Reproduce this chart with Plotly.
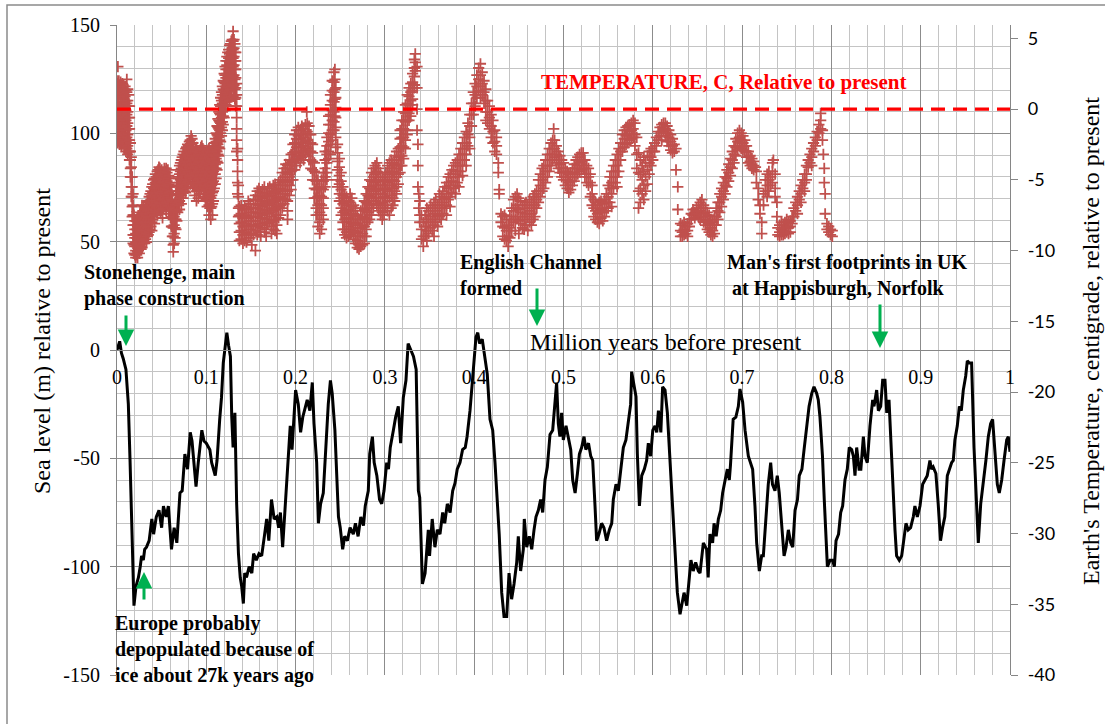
import plotly.graph_objects as go

# ---------------- data ----------------
# Sea level (m) relative to present, vs million years before present
sea_0_to_03 = [
    (0.000, 0), (0.003, 4), (0.005, -1.5), (0.007, -4), (0.010, -9), (0.0127, -25), (0.0146, -51),
    (0.0164, -82), (0.019, -118), (0.0213, -109), (0.024, -105), (0.026, -100), (0.0275, -95),
    (0.0295, -97), (0.031, -92), (0.033, -91), (0.036, -88), (0.039, -78), (0.041, -85), (0.044, -77),
    (0.047, -74), (0.050, -82), (0.052, -72), (0.055, -77), (0.0575, -72), (0.061, -92), (0.064, -82),
    (0.067, -89), (0.069, -75), (0.0705, -66), (0.073, -65), (0.076, -48), (0.079, -55), (0.082, -38),
    (0.084, -42), (0.086, -52), (0.0885, -63), (0.091, -52), (0.095, -37), (0.0974, -42), (0.100, -43),
    (0.104, -46), (0.106, -52), (0.110, -58), (0.112, -51), (0.115, -32), (0.117, -22), (0.119, -6),
    (0.121, 0), (0.123, 8), (0.125, 2), (0.127, -3), (0.1285, -31), (0.130, -45), (0.132, -29),
    (0.134, -71), (0.136, -94), (0.138, -105), (0.1396, -109), (0.1415, -117), (0.143, -103),
    (0.145, -105), (0.148, -100), (0.151, -103), (0.153, -94), (0.156, -97), (0.159, -94), (0.162, -95),
    (0.165, -86), (0.1676, -78), (0.170, -88), (0.173, -69), (0.176, -78), (0.179, -77), (0.181, -82),
    (0.183, -75), (0.1855, -91), (0.188, -75), (0.190, -66), (0.192, -49), (0.194, -35), (0.196, -46),
    (0.198, -31), (0.200, -18.5), (0.203, -25), (0.2056, -38), (0.208, -31), (0.211, -26), (0.213, -23),
    (0.216, -28), (0.2187, -15), (0.2206, -34), (0.2236, -52), (0.2255, -80), (0.228, -71), (0.231, -66),
    (0.234, -41.5), (0.2366, -25), (0.239, -14), (0.241, -20), (0.244, -37), (0.246, -57), (0.248, -77),
    (0.250, -82), (0.2527, -92), (0.255, -86), (0.258, -88), (0.261, -82), (0.2646, -85), (0.267, -80),
    (0.270, -86), (0.273, -77), (0.276, -81), (0.278, -72), (0.2814, -65), (0.283, -48), (0.286, -40),
    (0.288, -52), (0.291, -58), (0.294, -69), (0.2964, -71), (0.299, -65),
]
sea_03_to_065 = [
    (0.302, -52), (0.304, -55), (0.306, -45), (0.3095, -37), (0.312, -31), (0.315, -26), (0.3176, -43),
    (0.3206, -22), (0.3236, -14), (0.326, 3), (0.329, 0), (0.332, -3), (0.335, -9), (0.3375, -65),
    (0.339, -68), (0.342, -108), (0.345, -103), (0.3486, -83), (0.350, -95), (0.353, -78), (0.356, -91),
    (0.3587, -83), (0.3617, -85), (0.3647, -75), (0.367, -80), (0.3699, -71), (0.373, -75), (0.3759, -65),
    (0.3785, -61.5), (0.381, -55), (0.3841, -52), (0.387, -46), (0.390, -45), (0.392, -40), (0.3953, -28),
    (0.398, -14), (0.400, -3), (0.402, 6), (0.404, 8), (0.406, 3), (0.409, 5), (0.4121, -3), (0.4146, -11),
    (0.4177, -32), (0.4207, -37), (0.4233, -52), (0.426, -71), (0.428, -85), (0.4308, -112), (0.4334, -123),
    (0.4364, -123), (0.439, -103), (0.4419, -115), (0.4446, -108), (0.4476, -98), (0.4494, -86),
    (0.452, -102), (0.455, -92), (0.4561, -78), (0.4588, -91), (0.4617, -86), (0.4644, -92), (0.467, -83),
    (0.4692, -77), (0.4718, -74), (0.4744, -69), (0.4767, -75), (0.4793, -60), (0.4819, -54), (0.4849, -39),
    (0.4879, -37), (0.4905, -22), (0.4923, -15), (0.4942, -34), (0.496, -40), (0.4979, -29), (0.4998, -41.5),
    (0.5028, -35), (0.5054, -40), (0.5081, -46), (0.5103, -60), (0.513, -66), (0.5156, -57), (0.5178, -48),
    (0.5203, -45), (0.523, -40), (0.525, -46), (0.528, -43), (0.5305, -49), (0.5327, -51), (0.5353, -72),
    (0.5371, -88), (0.5397, -85), (0.5427, -80), (0.5453, -82), (0.5483, -88), (0.5513, -83), (0.554, -80),
    (0.5558, -69), (0.5588, -62), (0.5614, -65), (0.564, -55), (0.567, -45), (0.5699, -41.5), (0.5726, -32),
    (0.5752, -25), (0.5763, -10), (0.5782, -15), (0.5812, -21.5), (0.5827, -48), (0.585, -72), (0.5876, -58),
    (0.5905, -55), (0.5931, -51), (0.595, -43), (0.5976, -49), (0.600, -37), (0.6025, -35), (0.6044, -38),
    (0.6063, -28), (0.609, -38), (0.611, -17), (0.6137, -18.5), (0.6163, -29), (0.6193, -52), (0.6223, -72),
    (0.6248, -95), (0.6275, -112), (0.6305, -122), (0.633, -117), (0.635, -112), (0.638, -118),
    (0.6405, -105), (0.6427, -97), (0.6453, -102), (0.648, -98), (0.651, -102),
]
sea_065_to_1 = [
    (0.6529, -103), (0.6566, -89), (0.6603, -92), (0.662, -105), (0.664, -85), (0.667, -89), (0.6686, -80),
    (0.671, -86), (0.6734, -78), (0.676, -74), (0.6782, -66), (0.681, -60), (0.6835, -55), (0.6857, -60),
    (0.687, -53), (0.690, -32), (0.693, -31), (0.6958, -26), (0.6976, -18), (0.7006, -24), (0.7033, -37),
    (0.707, -49), (0.7096, -52), (0.7118, -55), (0.7144, -72), (0.7163, -89), (0.7193, -102), (0.7219, -95),
    (0.7238, -95), (0.7267, -77), (0.7293, -62), (0.732, -52), (0.734, -62), (0.7368, -65), (0.7394, -58),
    (0.7416, -66), (0.7443, -83), (0.747, -95), (0.7492, -91), (0.7518, -83), (0.7544, -89), (0.7567, -91),
    (0.7593, -74), (0.762, -69), (0.764, -58), (0.767, -55), (0.7694, -46), (0.7723, -37), (0.775, -26),
    (0.778, -20), (0.7805, -17), (0.7835, -20), (0.7853, -23), (0.7872, -31), (0.790, -49), (0.792, -69),
    (0.794, -86), (0.7955, -100), (0.7985, -97), (0.8014, -97), (0.8033, -100), (0.8052, -88), (0.808, -85),
    (0.8104, -75), (0.8126, -72), (0.8152, -60), (0.8178, -55), (0.820, -45), (0.8227, -46), (0.8246, -49),
    (0.8264, -58), (0.8283, -45), (0.831, -55), (0.833, -55), (0.8358, -40), (0.8376, -49), (0.8402, -52),
    (0.8432, -35), (0.8462, -23), (0.8477, -26), (0.8507, -18.5), (0.8526, -28), (0.8552, -26), (0.8574, -14),
    (0.860, -14), (0.862, -29), (0.8645, -23), (0.8664, -41.5), (0.8686, -63), (0.8712, -83), (0.873, -95),
    (0.876, -97), (0.8787, -95), (0.8813, -86), (0.8835, -80), (0.886, -83), (0.8887, -82), (0.8917, -77),
    (0.8935, -72), (0.8962, -77), (0.8992, -72), (0.9022, -62), (0.9047, -60), (0.9073, -58), (0.9103, -51),
    (0.9121, -55), (0.914, -54), (0.917, -57), (0.9196, -71), (0.9222, -88), (0.9245, -82), (0.927, -77),
    (0.9298, -58), (0.932, -55), (0.9346, -52), (0.9365, -51), (0.9383, -41.5), (0.941, -35), (0.9433, -26),
    (0.9455, -28), (0.9477, -18.5), (0.9504, -12), (0.9522, -5), (0.9545, -6), (0.957, -6), (0.9597, -45),
    (0.9626, -71), (0.9645, -89), (0.9672, -71), (0.970, -62), (0.973, -51), (0.9757, -40), (0.9783, -34),
    (0.9805, -32), (0.983, -46), (0.9858, -62), (0.988, -66), (0.9907, -60), (0.9933, -51), (0.9963, -41.5),
    (0.9981, -40), (1.000, -47),
]

# Temperature (C) relative to present: age -> the readings seen at that age
temp_0_to_0136 = [
    (0.000, [2.0, 1.2, 0.5, -0.2, -0.9, -1.6, -2.2]), (0.001, [3.0, 1.8, 1.0, 0.3, -0.4, -1.1, -1.9, -2.4]),
    (0.002, [2.0, 1.4, 0.7, 0.0, -0.7, -1.4, -2.0]), (0.003, [1.7, 1.0, 0.2, -0.5, -1.2, -1.9, -2.5]),
    (0.004, [1.9, 1.2, 0.5, -0.3, -1.0, -1.7, -2.3]), (0.005, [1.5, 0.8, 0.1, -0.6, -1.3, -2.0, -2.6]),
    (0.006, [1.8, 1.1, 0.4, -0.3, -1.0, -1.8, -2.4]), (0.007, [1.6, 0.9, 0.2, -0.5, -1.2, -1.9]),
    (0.008, [1.4, 0.7, 0.0, -0.8, -1.5, -2.2, -2.8]), (0.009, [1.6, 0.9, 0.2, -0.6, -1.3, -2.0, -2.7]),
    (0.010, [1.3, 0.6, -0.1, -0.8, -1.5, -2.3, -3.0]), (0.011, [2.1, 1.2, 0.4, -0.4, -1.2, -2.0, -2.8]),
    (0.012, [1.4, 0.6, -0.2, -1.0, -1.8, -2.6, -3.2]), (0.013, [1.0, 0.2, -0.6, -1.4, -2.2, -3.0]),
    (0.014, [0.2, -0.6, -1.4, -2.2, -3.0, -3.6]), (0.015, [-2.4, -3.0, -3.6, -4.2, -4.8]),
    (0.016, [-3.4, -4.1, -4.8, -5.5, -6.2]), (0.017, [-4.8, -5.5, -6.2, -6.9, -7.6]),
    (0.018, [-6.0, -6.8, -7.5, -8.2, -8.9, -9.5]), (0.019, [-7.5, -8.2, -8.9, -9.6, -10.2]),
    (0.020, [-7.9, -8.5, -9.1, -9.7, -10.3]), (0.021, [-8.2, -8.8, -9.4, -10.0, -10.5]),
    (0.022, [-7.9, -8.5, -9.1, -9.7, -10.3]), (0.023, [-7.7, -8.3, -8.9, -9.5, -10.1, -10.5]),
    (0.024, [-7.6, -8.2, -8.8, -9.4, -10.0]), (0.025, [-7.8, -8.4, -9.0, -9.6, -10.2]),
    (0.026, [-7.3, -7.9, -8.5, -9.1, -9.7]), (0.027, [-7.5, -8.1, -8.7, -9.3, -9.9]),
    (0.028, [-6.8, -7.4, -8.0, -8.6, -9.2, -9.8]), (0.029, [-7.2, -7.8, -8.4, -9.0, -9.5]),
    (0.030, [-6.9, -7.5, -8.1, -8.7, -9.3]), (0.031, [-7.1, -7.7, -8.3, -8.9, -9.5]),
    (0.032, [-6.8, -7.4, -8.0, -8.6, -9.2]), (0.033, [-7.0, -7.6, -8.2, -8.8, -9.4]),
    (0.034, [-6.6, -7.2, -7.8, -8.4, -9.0]), (0.035, [-6.5, -7.1, -7.7, -8.3, -8.9]),
    (0.036, [-6.2, -6.8, -7.4, -8.0, -8.7]), (0.037, [-6.0, -6.6, -7.2, -7.8, -8.5]),
    (0.038, [-5.8, -6.4, -7.0, -7.6, -8.3]), (0.039, [-5.5, -6.1, -6.7, -7.3, -8.0, -8.6]),
    (0.040, [-5.3, -5.9, -6.5, -7.1, -7.8]), (0.041, [-5.0, -5.6, -6.2, -6.8, -7.5]),
    (0.042, [-4.9, -5.5, -6.1, -6.8, -7.5, -8.1]), (0.043, [-4.6, -5.2, -5.9, -6.5, -7.2]),
    (0.044, [-4.8, -5.4, -6.0, -6.6, -7.3]), (0.045, [-4.4, -5.0, -5.6, -6.2, -6.9, -7.5]),
    (0.046, [-4.3, -4.9, -5.5, -6.1, -6.8]), (0.047, [-4.1, -4.7, -5.3, -5.9, -6.6, -7.2]),
    (0.048, [-4.2, -4.8, -5.4, -6.0, -6.7]), (0.049, [-4.4, -5.0, -5.6, -6.2, -6.9, -7.4]),
    (0.050, [-4.3, -4.9, -5.5, -6.1, -6.8]), (0.051, [-4.6, -5.2, -5.8, -6.4, -7.1, -7.7]),
    (0.052, [-4.5, -5.1, -5.7, -6.3, -7.0]), (0.053, [-4.2, -4.8, -5.4, -6.0, -6.7]),
    (0.054, [-4.4, -5.0, -5.6, -6.2, -6.9]), (0.055, [-4.2, -4.8, -5.4, -6.0, -6.6, -7.2]),
    (0.056, [-4.5, -5.1, -5.7, -6.3, -6.9]), (0.057, [-4.3, -4.9, -5.5, -6.1, -6.8]),
    (0.058, [-4.7, -5.3, -5.9, -6.5, -7.2]), (0.059, [-4.9, -5.5, -6.1, -6.7, -7.4]),
    (0.060, [-5.2, -5.8, -6.4, -7.0, -7.7]), (0.061, [-5.8, -6.4, -7.0, -7.6, -8.3]),
    (0.062, [-6.5, -7.1, -7.7, -8.3, -9.0]), (0.063, [-7.2, -7.8, -8.4, -9.0, -9.6, -10.1]),
    (0.064, [-7.0, -7.6, -8.2, -8.8, -9.5]), (0.065, [-6.6, -7.2, -7.8, -8.4, -9.1]),
    (0.066, [-6.0, -6.6, -7.2, -7.8, -8.5]), (0.067, [-5.4, -6.0, -6.6, -7.2, -7.9]),
    (0.068, [-4.8, -5.4, -6.0, -6.6, -7.3]), (0.069, [-4.3, -4.9, -5.5, -6.1, -6.8]),
    (0.070, [-4.0, -4.6, -5.2, -5.8, -6.5, -7.1]), (0.071, [-3.8, -4.4, -5.0, -5.6, -6.3]),
    (0.072, [-3.6, -4.2, -4.8, -5.4, -6.1, -6.7]), (0.073, [-3.4, -4.0, -4.6, -5.2, -5.9]),
    (0.074, [-3.2, -3.8, -4.4, -5.0, -5.7, -6.3]), (0.075, [-3.0, -3.6, -4.2, -4.8, -5.5]),
    (0.076, [-3.3, -3.9, -4.5, -5.1, -5.8]), (0.077, [-2.8, -3.4, -4.0, -4.6, -5.3, -5.9]),
    (0.078, [-2.7, -3.3, -3.9, -4.5, -5.2]), (0.079, [-2.5, -3.1, -3.7, -4.3, -5.0, -5.6]),
    (0.080, [-2.6, -3.2, -3.8, -4.4, -5.1]), (0.081, [-2.3, -2.9, -3.5, -4.1, -4.8]),
    (0.082, [-2.2, -2.8, -3.4, -4.0, -4.7, -5.3]), (0.083, [-1.9, -2.5, -3.1, -3.7, -4.4]),
    (0.084, [-2.1, -2.7, -3.3, -3.9, -4.6]), (0.085, [-2.4, -3.0, -3.6, -4.2, -4.9, -5.5]),
    (0.086, [-2.8, -3.4, -4.0, -4.6, -5.3]), (0.087, [-3.0, -3.6, -4.2, -4.8, -5.5, -6.1]),
    (0.088, [-2.9, -3.5, -4.1, -4.7, -5.4]), (0.089, [-2.7, -3.3, -3.9, -4.5, -5.2, -5.8, -6.5]),
    (0.090, [-3.0, -3.6, -4.2, -4.8, -5.5]), (0.091, [-3.2, -3.8, -4.4, -5.0, -5.7, -6.3]),
    (0.092, [-3.1, -3.7, -4.3, -4.9, -5.6]), (0.093, [-2.9, -3.5, -4.1, -4.7, -5.4, -6.0]),
    (0.094, [-2.7, -3.3, -3.9, -4.5, -5.2]), (0.095, [-2.6, -3.2, -3.8, -4.4, -5.1, -5.7]),
    (0.096, [-2.8, -3.4, -4.0, -4.6, -5.3]), (0.097, [-2.9, -3.5, -4.1, -4.7, -5.4, -6.0]),
    (0.098, [-3.1, -3.7, -4.3, -4.9, -5.6, -6.2]), (0.099, [-3.3, -3.9, -4.5, -5.1, -5.8, -6.5]),
    (0.100, [-3.2, -3.8, -4.4, -5.0, -5.7, -6.4]), (0.101, [-3.0, -3.6, -4.2, -4.8, -5.5, -6.2, -6.9]),
    (0.102, [-2.9, -3.5, -4.1, -4.7, -5.4, -6.1]), (0.103, [-2.8, -3.4, -4.0, -4.6, -5.3, -6.0, -6.8, -7.5]),
    (0.104, [-3.0, -3.6, -4.2, -4.8, -5.5, -6.2, -7.0]), (0.105, [-3.1, -3.7, -4.3, -4.9, -5.6, -6.3, -7.0, -7.8]),
    (0.106, [-2.9, -3.5, -4.1, -4.7, -5.4, -6.1, -6.9]), (0.107, [-2.7, -3.3, -3.9, -4.5, -5.2, -5.9, -6.7, -7.5]),
    (0.108, [-2.6, -3.2, -3.8, -4.4, -5.1, -5.8, -6.5]), (0.109, [-2.4, -3.0, -3.6, -4.2, -4.9, -5.6]),
    (0.110, [-2.1, -2.7, -3.3, -3.9, -4.6, -5.3]), (0.111, [-1.7, -2.3, -2.9, -3.5, -4.2, -4.9]),
    (0.112, [-1.2, -1.8, -2.4, -3.0, -3.7, -4.3]), (0.113, [-0.7, -1.3, -1.9, -2.5, -3.2, -3.8]),
    (0.114, [-0.2, -0.8, -1.4, -2.0, -2.7, -3.3]), (0.115, [0.3, -0.3, -0.9, -1.5, -2.2, -2.8]),
    (0.116, [0.8, 0.2, -0.4, -1.0, -1.7, -2.3]), (0.117, [1.2, 0.6, 0.0, -0.6, -1.3, -1.9]),
    (0.118, [1.6, 1.0, 0.4, -0.2, -0.9, -1.5]), (0.119, [2.0, 1.4, 0.8, 0.2, -0.5, -1.1]),
    (0.120, [2.5, 1.9, 1.3, 0.7, 0.0, -0.6]), (0.121, [3.0, 2.4, 1.8, 1.2, 0.5, -0.1]),
    (0.122, [3.4, 2.8, 2.2, 1.6, 0.9, 0.3]), (0.123, [3.7, 3.1, 2.5, 1.9, 1.2, 0.5]),
    (0.124, [4.0, 3.4, 2.8, 2.2, 1.5, 0.8, 0.2]), (0.125, [4.2, 3.6, 3.0, 2.4, 1.7, 1.0]),
    (0.126, [4.5, 3.9, 3.3, 2.7, 2.0, 1.3, 0.6]), (0.127, [4.6, 4.0, 3.4, 2.8, 2.1, 1.4]),
    (0.128, [4.8, 4.2, 3.6, 3.0, 2.3, 1.6, 0.9]), (0.129, [4.9, 4.3, 3.7, 3.1, 2.4, 1.7]),
    (0.130, [5.5, 4.8, 4.2, 3.6, 3.0, 2.3, 1.6, 0.9]), (0.131, [4.9, 4.3, 3.7, 3.1, 2.4, 1.7, 1.0]),
    (0.132, [4.6, 4.0, 3.4, 2.8, 2.1, 1.4, 0.7]), (0.133, [4.0, 3.4, 2.8, 2.2, 1.5, 0.8, 0.2]),
    (0.134, [1.8, 1.0, 0.2, -0.6, -1.4, -2.2, -3.0]), (0.135, [-2.8, -3.6, -4.4, -5.2, -6.0]),
    (0.136, [-5.4, -6.2, -7.0, -7.6]),
]
temp_0136_to_0334 = [
    (0.137, [-6.9, -7.5, -8.1, -8.7, -9.3]), (0.139, [-6.8, -7.4, -8.0, -8.6, -9.2]),
    (0.141, [-7.1, -7.7, -8.3, -8.9, -9.5]), (0.143, [-6.9, -7.5, -8.1, -8.7, -9.3]),
    (0.145, [-7.0, -7.6, -8.2, -8.8, -9.4]), (0.147, [-6.5, -7.1, -7.7, -8.3, -8.9]),
    (0.149, [-6.7, -7.3, -7.9, -8.5, -9.1]), (0.151, [-7.0, -7.6, -8.2, -8.8, -9.6]),
    (0.153, [-6.4, -7.0, -7.6, -8.2, -8.9]), (0.155, [-6.1, -6.7, -7.3, -7.9, -8.6, -10.0]),
    (0.157, [-5.8, -6.4, -7.0, -7.6, -8.3, -8.9]), (0.159, [-5.6, -6.2, -6.8, -7.4, -8.1, -8.7]),
    (0.161, [-5.9, -6.5, -7.1, -7.7, -8.4, -9.0]), (0.163, [-5.7, -6.3, -6.9, -7.5, -8.2]),
    (0.165, [-5.5, -6.1, -6.7, -7.3, -8.0, -8.7]), (0.167, [-6.0, -6.6, -7.2, -7.8, -8.5, -9.0]),
    (0.169, [-5.6, -6.2, -6.8, -7.4, -8.1]), (0.171, [-5.5, -6.1, -6.7, -7.3, -8.0]),
    (0.173, [-5.8, -6.4, -7.0, -7.6, -8.3, -8.8]), (0.175, [-5.4, -6.0, -6.6, -7.2, -7.9, -8.5]),
    (0.177, [-5.3, -5.9, -6.5, -7.1, -7.8, -8.6]), (0.179, [-5.7, -6.3, -6.9, -7.5, -8.2, -8.8]),
    (0.181, [-5.2, -5.8, -6.4, -7.0, -7.7]), (0.183, [-5.0, -5.6, -6.2, -6.8, -7.5]),
    (0.185, [-4.5, -5.1, -5.7, -6.3, -7.0]), (0.187, [-4.2, -4.8, -5.4, -6.0, -6.7]),
    (0.189, [-3.9, -4.5, -5.1, -5.7, -6.4]), (0.191, [-4.0, -4.6, -5.2, -5.8, -6.5, -7.2, -7.8]),
    (0.193, [-3.6, -4.2, -4.8, -5.4, -6.1]), (0.195, [-3.2, -3.8, -4.4, -5.0, -5.7]),
    (0.197, [-2.5, -3.1, -3.7, -4.3, -5.0]), (0.199, [-1.8, -2.4, -3.0, -3.6, -4.3]),
    (0.201, [-1.5, -2.1, -2.7, -3.3, -4.0]), (0.203, [-1.3, -1.9, -2.5, -3.1, -3.5]),
    (0.205, [-1.5, -2.1, -2.7, -3.3, -3.8]), (0.207, [-1.2, -1.8, -2.4, -3.0, -3.4]),
    (0.209, [-1.4, -2.0, -2.6, -3.2, -3.6]), (0.211, [-1.1, -1.7, -2.3, -2.9, -3.2]),
    (0.2125, [-0.2]), (0.213, [-1.0, -1.6, -2.2, -2.8, -3.0]),
    (0.215, [-1.2, -1.8, -2.4, -3.0, -3.6]), (0.217, [-1.8, -2.4, -3.0, -3.6, -4.2]),
    (0.219, [-2.5, -3.1, -3.7, -4.3, -5.0]), (0.221, [-3.8, -4.4, -5.0, -5.6, -6.3]),
    (0.223, [-4.5, -5.1, -5.7, -6.3, -7.0, -7.5]), (0.225, [-5.0, -5.6, -6.2, -6.8, -7.5, -8.3]),
    (0.227, [-5.5, -6.1, -6.7, -7.3, -8.0, -8.8]), (0.229, [-5.0, -5.6, -6.2, -6.8, -7.5, -8.5]),
    (0.231, [-4.5, -5.1, -5.7, -6.3, -7.0, -7.8]), (0.233, [-3.0, -3.6, -4.2, -4.8, -5.5]),
    (0.235, [-2.0, -2.6, -3.2, -3.8, -4.5, -5.0]), (0.237, [-0.5, -1.1, -1.7, -2.3, -3.0, -3.5]),
    (0.239, [1.0, 0.3, -0.4, -1.1, -1.8, -2.5, -3.2]), (0.241, [2.0, 1.3, 0.6, -0.1, -0.8, -1.5, -2.2]),
    (0.243, [2.6, 1.9, 1.2, 0.5, -0.2, -0.9, -1.5]), (0.244, [2.8, 2.1, 1.4, 0.7, 0.0, -0.5]),
    (0.245, [1.5, 0.8, 0.1, -0.6, -1.3, -2.0, -2.7]), (0.247, [-2.5, -3.1, -3.7, -4.3, -5.0, -5.5]),
    (0.249, [-3.5, -4.1, -4.7, -5.3, -6.0, -6.5]), (0.251, [-4.5, -5.1, -5.7, -6.3, -7.0, -7.5]),
    (0.253, [-5.5, -6.1, -6.7, -7.3, -8.0, -8.5]), (0.255, [-6.0, -6.6, -7.2, -7.8, -8.5, -8.9]),
    (0.257, [-6.2, -6.8, -7.4, -8.0, -8.7, -9.1]), (0.259, [-6.5, -7.1, -7.7, -8.3, -9.0]),
    (0.261, [-6.0, -6.6, -7.2, -7.8, -8.5, -8.9]), (0.263, [-6.3, -6.9, -7.5, -8.1, -8.7]),
    (0.265, [-6.8, -7.4, -8.0, -8.6, -9.2]), (0.267, [-7.0, -7.6, -8.2, -8.8, -9.5]),
    (0.269, [-7.5, -8.1, -8.7, -9.3, -9.8]), (0.271, [-7.8, -8.4, -9.0, -9.6, -9.9]),
    (0.273, [-7.2, -7.8, -8.4, -9.0, -9.7]), (0.275, [-7.0, -7.6, -8.2, -8.8, -9.6]),
    (0.277, [-6.5, -7.1, -7.7, -8.3, -9.0, -9.5]), (0.279, [-6.0, -6.6, -7.2, -7.8, -8.5, -9.0]),
    (0.281, [-5.5, -6.1, -6.7, -7.3, -8.0]), (0.283, [-5.0, -5.6, -6.2, -6.8, -7.5, -7.8]),
    (0.285, [-4.5, -5.1, -5.7, -6.3, -7.0, -7.5]), (0.287, [-4.2, -4.8, -5.4, -6.0, -6.7, -7.0]),
    (0.289, [-4.0, -4.6, -5.2, -5.8, -6.5]), (0.291, [-3.8, -4.4, -5.0, -5.6, -6.3, -6.8]),
    (0.293, [-4.2, -4.8, -5.4, -6.0, -6.7, -7.2]), (0.295, [-4.5, -5.1, -5.7, -6.3, -7.0, -7.5]),
    (0.297, [-4.8, -5.4, -6.0, -6.6, -7.3, -7.8]), (0.299, [-5.0, -5.6, -6.2, -6.8, -7.5]),
    (0.301, [-4.5, -5.1, -5.7, -6.3, -7.0]), (0.303, [-4.0, -4.6, -5.2, -5.8, -6.5, -7.2]),
    (0.305, [-3.8, -4.4, -5.0, -5.6, -6.3, -7.5]), (0.307, [-3.6, -4.2, -4.8, -5.4, -6.1, -7.0]),
    (0.309, [-3.8, -4.4, -5.0, -5.6, -6.3, -6.8]), (0.311, [-3.3, -3.9, -4.5, -5.1, -5.8, -6.5]),
    (0.313, [-3.0, -3.6, -4.2, -4.8, -5.5, -6.0]), (0.315, [-2.8, -3.4, -4.0, -4.6, -5.3]),
    (0.317, [-1.5, -2.1, -2.7, -3.3, -4.0, -4.5]), (0.319, [-0.8, -1.4, -2.0, -2.6, -3.3, -4.0]),
    (0.321, [-0.2, -0.8, -1.4, -2.0, -2.7, -3.5]), (0.323, [0.3, -0.3, -0.9, -1.5, -2.2, -2.8]),
    (0.325, [1.0, 0.4, -0.2, -0.8, -1.5, -1.8]), (0.327, [1.5, 0.9, 0.3, -0.3, -0.8]),
    (0.329, [1.8, 1.2, 0.6, 0.0, -0.5]), (0.331, [2.5, 1.9, 1.3, 0.7, 0.3]),
    (0.333, [3.5, 2.9, 2.3, 1.7, 1.5]), (0.334, [3.9, 3.3, 2.7]),
]
temp_0334_to_0653 = [
    (0.336, [3.0, 1.5, 0.0, -1.5]), (0.337, [-2.5, -4.0, -5.5]), (0.338, [-6.0, -7.0]),
    (0.339, [-6.5, -7.5, -8.0]), (0.341, [-7.5, -8.5, -9.2]), (0.343, [-8.0, -9.0, -9.7]),
    (0.345, [-7.5, -8.3, -9.0]), (0.347, [-7.0, -7.8, -8.6, -9.3]), (0.349, [-7.2, -8.0, -8.8]),
    (0.351, [-6.8, -7.6, -8.4]), (0.353, [-7.0, -7.8, -8.6]), (0.355, [-6.6, -7.4, -8.2, -9.0]),
    (0.357, [-6.4, -7.2, -8.0]), (0.359, [-6.8, -7.5, -8.3]), (0.361, [-6.0, -6.8, -7.6]),
    (0.363, [-6.2, -7.0, -7.8]), (0.365, [-5.8, -6.6, -7.4]), (0.367, [-5.5, -6.3, -7.0]),
    (0.369, [-5.2, -6.0, -6.8, -7.5]), (0.371, [-4.8, -5.6, -6.4]), (0.373, [-4.6, -5.4, -6.2, -6.9]),
    (0.375, [-4.3, -5.1, -5.9]), (0.377, [-4.0, -4.8, -5.6]), (0.379, [-3.8, -4.6, -5.4, -6.0]),
    (0.381, [-3.6, -4.4, -5.2]), (0.383, [-3.2, -4.0, -4.8, -5.5]), (0.385, [-2.8, -3.6, -4.4]),
    (0.387, [-2.4, -3.2, -4.0, -4.7]), (0.389, [-2.0, -2.8, -3.6]), (0.391, [-1.6, -2.4, -3.2, -4.0]),
    (0.393, [-1.0, -1.8, -2.6]), (0.395, [-0.4, -1.2, -2.0, -2.8]), (0.397, [0.4, -0.4, -1.2]),
    (0.399, [1.2, 0.4, -0.4]), (0.401, [1.8, 1.0, 0.2]), (0.403, [2.4, 1.6, 0.8]),
    (0.405, [2.9, 2.1, 1.3]), (0.407, [3.2, 2.4, 1.6, 0.8]), (0.409, [2.6, 1.8, 1.0]),
    (0.411, [2.0, 1.2, 0.4]), (0.413, [1.4, 0.6, -0.2, -0.8]), (0.415, [0.6, -0.2, -1.0]),
    (0.417, [0.2, -0.6, -1.4]), (0.419, [-0.4, -1.2, -2.0]), (0.421, [-0.8, -1.6, -2.4]),
    (0.423, [-1.5, -2.3, -3.0]), (0.425, [-2.0, -2.6, -3.2]), (0.427, [-3.8, -4.5]),
    (0.428, [-5.7, -6.0]), (0.430, [-7.4, -8.0]), (0.432, [-7.6, -8.3, -9.0]),
    (0.434, [-7.5, -8.4, -9.2]), (0.436, [-7.8, -8.6, -9.3]), (0.438, [-8.2, -9.0, -9.7]),
    (0.440, [-7.6, -8.4, -9.1]), (0.442, [-7.0, -7.8, -8.6]), (0.444, [-6.4, -7.2, -8.0]),
    (0.446, [-6.2, -7.0, -7.8, -8.6]), (0.448, [-6.0, -6.8, -7.6]), (0.450, [-6.3, -7.1, -7.9, -8.8]),
    (0.452, [-6.5, -7.3, -8.1]), (0.454, [-6.8, -7.6, -8.4]), (0.456, [-7.0, -7.8, -8.5]),
    (0.458, [-6.6, -7.4, -8.2]), (0.460, [-6.8, -7.6, -8.6]), (0.462, [-6.4, -7.2, -8.0]),
    (0.464, [-6.6, -7.4, -8.2]), (0.466, [-6.2, -7.0, -7.8]), (0.468, [-6.0, -6.8, -7.6]),
    (0.470, [-5.8, -6.4, -7.0]), (0.472, [-5.0, -5.8, -6.6]), (0.474, [-4.6, -5.4, -6.2]),
    (0.476, [-4.2, -5.0, -5.8]), (0.478, [-4.0, -4.8, -5.6]), (0.480, [-3.6, -4.4, -5.2]),
    (0.482, [-3.2, -4.0, -4.8]), (0.484, [-2.8, -3.6, -4.4]), (0.486, [-2.4, -3.2, -4.0]),
    (0.488, [-2.2, -2.8, -3.6]), (0.489, [-1.4]), (0.490, [-2.2, -2.8, -3.4]),
    (0.492, [-2.6, -3.2, -3.8]), (0.494, [-3.0, -3.6, -4.2]), (0.496, [-3.3, -3.9, -4.5]),
    (0.498, [-3.6, -4.2, -4.8]), (0.500, [-3.8, -4.4, -5.0]), (0.502, [-4.2, -4.8, -5.4]),
    (0.504, [-4.4, -5.0, -5.6]), (0.506, [-4.6, -5.2, -5.9]), (0.508, [-4.5, -5.1, -5.7]),
    (0.510, [-4.2, -4.8, -5.4]), (0.512, [-3.9, -4.5, -5.1]), (0.514, [-3.6, -4.2, -4.8]),
    (0.516, [-3.4, -4.0, -4.6]), (0.518, [-3.2, -3.8, -4.4]), (0.520, [-3.1, -3.7, -4.3]),
    (0.522, [-3.1, -3.6, -4.2]), (0.524, [-3.6, -4.2, -4.8]), (0.526, [-4.0, -4.6, -5.2]),
    (0.528, [-4.2, -4.8, -5.4]), (0.530, [-4.6, -5.2, -6.2]), (0.532, [-5.4, -6.0, -6.8]),
    (0.534, [-6.4, -7.0, -7.6]), (0.536, [-6.6, -7.2, -7.8]), (0.538, [-6.8, -7.4, -8.0]),
    (0.540, [-6.6, -7.3, -8.1]), (0.542, [-6.5, -7.1, -7.7]), (0.544, [-6.7, -7.3, -7.9]),
    (0.546, [-6.4, -7.0, -7.6]), (0.548, [-6.0, -6.6, -7.2]), (0.550, [-5.4, -6.2, -7.0]),
    (0.552, [-4.8, -5.6, -6.6]), (0.554, [-4.4, -5.2, -6.0, -6.9]), (0.556, [-4.0, -4.8, -5.6]),
    (0.558, [-3.6, -4.4, -5.2]), (0.560, [-3.2, -4.0, -4.8, -5.5]), (0.562, [-2.8, -3.6, -4.4]),
    (0.564, [-2.4, -3.0, -3.6]), (0.566, [-1.8, -2.4, -3.0]), (0.568, [-1.5, -2.1, -2.7]),
    (0.570, [-1.3, -1.9, -2.5]), (0.572, [-1.2, -1.8, -2.4]), (0.574, [-1.1, -1.6, -2.2]),
    (0.576, [-1.0, -1.5, -2.1]), (0.578, [-0.8, -1.4, -2.0]), (0.580, [-1.0, -1.8, -2.6]),
    (0.582, [-2.0, -3.2, -4.2]), (0.584, [-3.1, -4.5, -5.8, -7.0]), (0.586, [-3.6, -4.6, -5.6, -6.6]),
    (0.588, [-4.0, -5.0, -6.0]), (0.590, [-3.4, -4.4, -5.4, -6.4]), (0.592, [-3.8, -4.8, -5.8]),
    (0.594, [-3.3, -4.3, -5.3]), (0.596, [-3.0, -3.8, -4.6]), (0.598, [-2.8, -3.4, -4.0]),
    (0.600, [-3.0, -3.6]), (0.602, [-2.4, -3.0]), (0.604, [-2.0, -2.6]), (0.606, [-1.6, -2.2]),
    (0.608, [-1.3, -1.9]), (0.610, [-1.1, -1.6, -2.2]), (0.612, [-1.0, -1.5]),
    (0.614, [-1.0, -1.4, -1.9]), (0.616, [-1.2, -1.7, -2.3]), (0.618, [-1.5, -2.0, -2.6]),
    (0.620, [-1.8, -2.3, -2.9]), (0.622, [-2.1, -2.6, -3.1]), (0.624, [-2.5, -3.0]),
    (0.626, [-2.8, -4.3]), (0.628, [-5.5, -7.1]), (0.631, [-8.1, -8.6, -9.0]),
    (0.633, [-8.2, -8.7, -9.0]), (0.635, [-8.0, -8.5, -8.9]), (0.637, [-8.3, -8.8]),
    (0.639, [-8.1, -8.6, -9.0]), (0.641, [-7.8, -8.3]), (0.643, [-7.4, -7.8]),
    (0.645, [-7.1, -7.5]), (0.647, [-7.3, -7.7]), (0.649, [-7.0, -7.4]), (0.651, [-6.8, -7.2, -7.6]),
]
temp_0653_to_0801 = [
    (0.653, [-6.6, -7.2, -7.8]), (0.655, [-6.4, -7.0, -7.6]), (0.657, [-6.8, -7.4, -8.0]),
    (0.659, [-7.0, -7.6, -8.2]), (0.661, [-7.3, -7.9, -8.5]), (0.663, [-7.5, -8.1, -8.7]),
    (0.665, [-7.8, -8.4, -8.9]), (0.667, [-8.0, -8.6, -9.0]), (0.669, [-7.6, -8.2, -8.8]),
    (0.671, [-7.0, -7.6, -8.2]), (0.673, [-6.6, -7.2, -7.8]), (0.675, [-6.0, -6.6, -7.3]),
    (0.677, [-5.6, -6.2, -6.9]), (0.679, [-5.2, -5.8, -6.4]), (0.681, [-4.8, -5.4, -6.0]),
    (0.683, [-4.3, -4.9, -5.5]), (0.685, [-3.9, -4.5, -5.1]), (0.687, [-3.5, -4.1, -4.7]),
    (0.689, [-3.0, -3.6, -4.2]), (0.691, [-2.6, -3.2, -3.8]), (0.693, [-2.1, -2.7, -3.3]),
    (0.695, [-1.7, -2.3, -2.9]), (0.697, [-1.5, -2.0, -2.6]), (0.699, [-1.7, -2.2, -2.8]),
    (0.701, [-1.9, -2.4, -2.9]), (0.703, [-2.2, -2.6, -3.0]), (0.705, [-2.6, -3.0, -3.4]),
    (0.707, [-3.0, -3.4, -3.8]), (0.709, [-3.3, -3.7, -4.0]), (0.711, [-3.5, -3.9, -4.2]),
    (0.713, [-3.7, -4.0, -4.3]), (0.715, [-4.1]), (0.716, [-4.4, -5.2]), (0.718, [-5.6, -6.4]),
    (0.720, [-6.8, -7.4]), (0.722, [-8.0, -8.8]), (0.724, [-6.0, -6.8]), (0.726, [-5.0, -5.8]),
    (0.728, [-4.6, -5.4, -6.2]), (0.730, [-4.4, -5.0, -5.8]), (0.732, [-4.8, -5.4]),
    (0.734, [-3.8, -4.4, -5.2]), (0.735, [-3.6]), (0.737, [-4.6, -5.6, -6.2]), (0.739, [-6.6, -7.6]),
    (0.740, [-8.4, -8.9]), (0.742, [-8.2, -8.7, -9.0]), (0.744, [-8.0, -8.5, -8.9]),
    (0.746, [-8.2, -8.6, -8.9]), (0.748, [-8.0, -8.4, -8.8]), (0.750, [-7.8, -8.3, -8.7]),
    (0.752, [-8.0, -8.4, -8.8]), (0.754, [-7.9, -8.3, -8.7]), (0.756, [-7.6, -8.1]),
    (0.758, [-7.0, -7.6]), (0.760, [-6.6, -7.2]), (0.762, [-6.2, -6.8, -7.4]), (0.764, [-5.8, -6.4]),
    (0.766, [-5.4, -6.0, -6.6]), (0.768, [-5.0, -5.6]), (0.770, [-4.6, -5.2, -5.8]),
    (0.772, [-4.0, -4.6, -5.0]), (0.774, [-3.6, -4.1]), (0.776, [-3.2, -3.8]),
    (0.778, [-2.8, -3.4, -4.0]), (0.780, [-2.4, -3.0]), (0.782, [-2.0, -2.6]), (0.784, [-1.6, -2.2]),
    (0.786, [-1.1, -1.7]), (0.788, [-0.3, -0.8, -1.4]), (0.790, [-1.5, -2.2]), (0.791, [-3.2]),
    (0.792, [-4.2, -5.2]), (0.793, [-6.0, -7.4]), (0.795, [-8.1, -8.5]), (0.797, [-8.3, -8.7]),
    (0.799, [-8.5, -8.9]), (0.801, [-8.6, -9.0]),
]

x_tick_values = [0, 0.1, 0.2, 0.3, 0.4, 0.5, 0.6, 0.7, 0.8, 0.9, 1]
x_tick_labels = ["0", "0.1", "0.2", "0.3", "0.4", "0.5", "0.6", "0.7", "0.8", "0.9", "1"]
sea_tick_values = [-150, -100, -50, 0, 50, 100, 150]
sea_tick_labels = ["-150", "-100", "-50", "0", "50", "100", "150"]
temp_tick_values = [-40, -35, -30, -25, -20, -15, -10, -5, 0, 5]
temp_tick_labels = ["-40", "-35", "-30", "-25", "-20", "-15", "-10", "-5", "0", "5"]
present_temperature = [0, 0]
present_span = [0, 1]

# ---------------- build ----------------
sea = sea_0_to_03 + sea_03_to_065 + sea_065_to_1
sea_x = [p[0] for p in sea]
sea_y = [p[1] for p in sea]

temp_x, temp_y = [], []
for block in (temp_0_to_0136, temp_0136_to_0334, temp_0334_to_0653, temp_0653_to_0801):
    for age, vals in block:
        for v in vals:
            temp_x.append(age)
            temp_y.append(v)

SERIF = "Liberation Serif, Times New Roman, serif"
GRID_MAJOR = "#8c8c8c"
GRID_MINOR = "#c4c4c4"
AXIS = "#868686"

# grid line positions (style only)
x_minor_grid = [round(i * 0.02, 2) for i in range(51)]
y_minor_grid = [-150 + 10 * i for i in range(31)]

fig = go.Figure()
fig.add_trace(go.Scatter(x=sea_x, y=sea_y, mode="lines",
                         line=dict(color="#000000", width=3), yaxis="y", showlegend=False))
fig.add_trace(go.Scatter(x=temp_x, y=temp_y, mode="markers", yaxis="y2", showlegend=False,
                         marker=dict(symbol="cross-thin", size=8,
                                     line=dict(color="#C0504D", width=1.8))))
fig.add_trace(go.Scatter(x=present_span, y=present_temperature, mode="lines", yaxis="y2",
                         showlegend=False,
                         line=dict(color="#FF0000", width=3.2, dash="14px,8px")))

W, H = 1105, 724
L, R, T, B = 117, 95, 25, 49
PW, PH = W - L - R, H - T - B


def px(x):
    return (x - L) / PW


def py(y):
    return (H - B - y) / PH


fig.update_layout(
    width=W, height=H, autosize=False,
    margin=dict(l=L, r=R, t=T, b=B, pad=0),
    paper_bgcolor="white", plot_bgcolor="white",
    showlegend=False,
    xaxis=dict(range=[0, 1], tickmode="array", tickvals=x_tick_values, ticktext=x_tick_labels,
               anchor="free", position=0.5, side="bottom",
               showline=True, linecolor=AXIS, linewidth=1.2,
               ticks="", ticklabelstandoff=9,
               tickfont=dict(family=SERIF, size=20, color="#000"),
               showgrid=True, gridcolor=GRID_MAJOR, gridwidth=1.2,
               minor=dict(tickmode="array", tickvals=x_minor_grid, showgrid=True,
                          gridcolor=GRID_MINOR, gridwidth=1.2, ticks=""),
               zeroline=False),
    yaxis=dict(range=[-150, 150], tickmode="array", tickvals=sea_tick_values,
               ticktext=sea_tick_labels,
               showline=True, linecolor=AXIS, linewidth=1.2,
               ticks="outside", ticklen=6, tickcolor=AXIS, ticklabelstandoff=6,
               tickfont=dict(family=SERIF, size=20, color="#000"),
               showgrid=True, gridcolor=GRID_MAJOR, gridwidth=1.2,
               minor=dict(tickmode="array", tickvals=y_minor_grid, showgrid=True,
                          gridcolor=GRID_MINOR, gridwidth=1.2, ticks=""),
               zeroline=False),
    yaxis2=dict(range=[-40, 5.94], overlaying="y", side="right", anchor="x",
                tickmode="array", tickvals=temp_tick_values, ticktext=temp_tick_labels,
                showline=True, linecolor=AXIS, linewidth=1.2,
                ticks="outside", ticklen=7, tickcolor=AXIS, ticklabelstandoff=6,
                tickfont=dict(family="Lato, Carlito, sans-serif", size=18, color="#000"),
                showgrid=False, zeroline=False),
)

# outer frame of the chart area
fig.add_shape(type="rect", xref="paper", yref="paper",
              x0=px(7), x1=px(1110), y0=py(730), y1=py(5),
              line=dict(color="#8a8a8a", width=1.5), layer="below")

bold = dict(family=SERIF, size=20, color="#000000", weight="bold")
texts = [
    ("Stonehenge, main<br>phase construction", 82, 285),
    ("English Channel<br>formed", 458, 275),
    ("Man's first footprints in UK<br>&nbsp;at Happisburgh, Norfolk", 725, 275),
    ("Europe probably<br>depopulated because of<br>ice about 27k years ago", 113, 649),
]
for txt, x0, yc in texts:
    fig.add_annotation(text=txt, xref="paper", yref="paper", x=px(x0), y=py(yc),
                       xanchor="left", yanchor="middle", align="left",
                       showarrow=False, font=bold)

fig.add_annotation(text="TEMPERATURE, C, Relative to present", xref="paper", yref="paper",
                   x=px(539), y=py(82), xanchor="left", yanchor="middle", showarrow=False,
                   font=dict(family=SERIF, size=21, color="#FF0000", weight="bold"))
fig.add_annotation(text="Million years before present", xref="paper", yref="paper",
                   x=px(528), y=py(342), xanchor="left", yanchor="middle", showarrow=False,
                   font=dict(family=SERIF, size=24, color="#000000"))
fig.add_annotation(text="Sea level (m) relative to present", xref="paper", yref="paper",
                   x=px(42), y=py(341), xanchor="center", yanchor="middle", textangle=-90,
                   showarrow=False, font=dict(family=SERIF, size=24, color="#000000"))
fig.add_annotation(text="Earth's Temperature, centigrade, relative to present", xref="paper",
                   yref="paper", x=px(1091), y=py(341), xanchor="center", yanchor="middle",
                   textangle=-90, showarrow=False,
                   font=dict(family=SERIF, size=24, color="#000000"))

# green arrows: (head x, head y, tail offset in px)
arrows = [(126, 346, -32), (537, 326, -39), (880, 348, -45), (144, 572, 29)]
for hx, hy, off in arrows:
    fig.add_annotation(text="", xref="paper", yref="paper", x=px(hx), y=py(hy),
                       ax=0, ay=off, showarrow=True, arrowhead=2, arrowsize=1.1,
                       arrowwidth=3, arrowcolor="#00B050", standoff=0, startstandoff=0)

fig.write_html("out.html", config={"displayModeBar": False},
               post_script="document.body.style.margin='0';document.body.style.overflow='hidden';")
